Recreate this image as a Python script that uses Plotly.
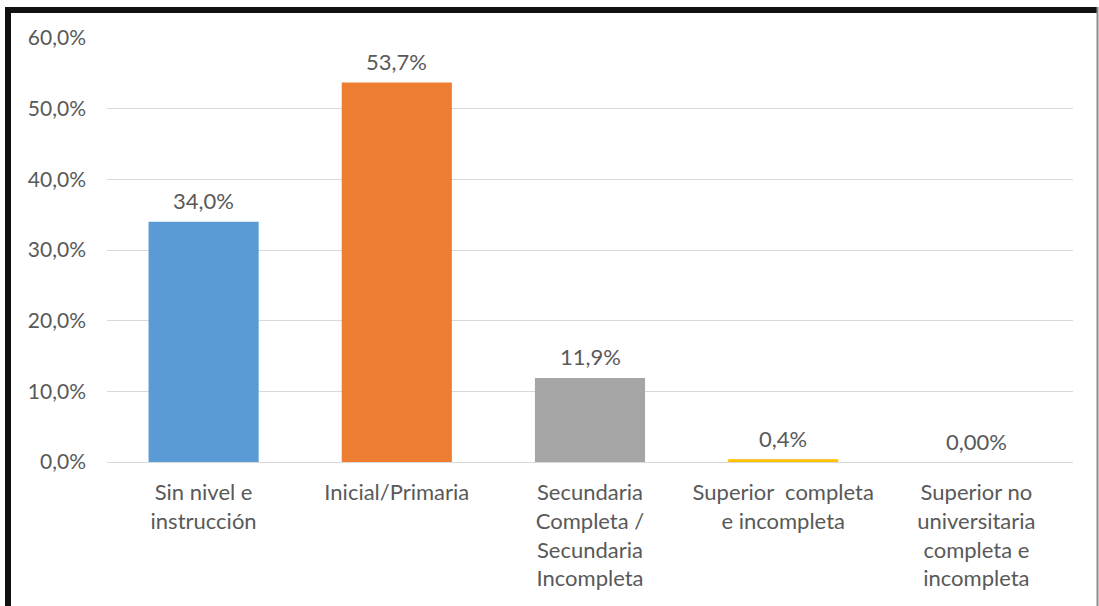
import plotly.graph_objects as go

# Nivel educativo: porcentaje por categoría
categorias = [
    "Sin nivel e<br>instrucción",
    "Inicial/Primaria",
    "Secundaria<br>Completa /<br>Secundaria<br>Incompleta",
    "Superior  completa<br>e incompleta",
    "Superior no<br>universitaria<br>completa e<br>incompleta",
]
porcentajes = [34.0, 53.7, 11.9, 0.4, 0.0]
decimales = [1, 1, 1, 1, 2]
colores = ["#5B9BD5", "#ED7D31", "#A5A5A5", "#FFC000", "#4472C4"]
ticks_y = [0, 10, 20, 30, 40, 50, 60]

W, H = 1099, 606
L, R, T, B = 107, 26, 38, 144
FONT = "Lato"
GRIS = "#595959"


def pct(v, d):
    return f"{v:.{d}f}".replace(".", ",") + "%"


fig = go.Figure(
    go.Bar(
        x=categorias,
        y=porcentajes,
        marker=dict(color=colores, line=dict(width=0)),
        hoverinfo="skip",
    )
)

# Etiquetas de valor sobre cada barra
for cat, v, d in zip(categorias, porcentajes, decimales):
    fig.add_annotation(
        x=cat, y=v, xref="x", yref="y",
        text=pct(v, d), showarrow=False,
        yanchor="middle", yshift=21,
        font=dict(family=FONT, size=22, color=GRIS),
    )

# Marco de la figura (pixeles convertidos a coordenadas del área de trazado)
pw, ph = W - L - R, H - T - B


def px(x):
    return (x - L) / pw


def py(y):
    return (H - B - y) / ph


fig.add_shape(type="rect", xref="paper", yref="paper",
              x0=px(5), x1=px(1097), y0=py(13), y1=py(7),
              fillcolor="#111111", line=dict(width=0), layer="above")
fig.add_shape(type="rect", xref="paper", yref="paper",
              x0=px(5), x1=px(11), y0=py(606), y1=py(7),
              fillcolor="#111111", line=dict(width=0), layer="above")
fig.add_shape(type="rect", xref="paper", yref="paper",
              x0=px(1096.5), x1=px(1098.5), y0=py(606), y1=py(7),
              fillcolor="#8C8C8C", line=dict(width=0), layer="above")

fig.update_layout(
    width=W,
    height=H,
    margin=dict(l=L, r=R, t=T, b=B, autoexpand=False),
    paper_bgcolor="white",
    plot_bgcolor="white",
    bargap=0.43,
    showlegend=False,
    font=dict(family=FONT, size=20, color=GRIS),
    xaxis=dict(
        showgrid=False,
        showline=True,
        linecolor="#D9D9D9",
        linewidth=1,
        tickfont=dict(family=FONT, size=22, color=GRIS),
        ticks="",
        ticklabelstandoff=11,
    ),
    yaxis=dict(
        range=[0, 60],
        tickmode="array",
        tickvals=ticks_y,
        ticktext=[pct(t, 1) for t in ticks_y],
        showgrid=True,
        gridcolor="#D9D9D9",
        gridwidth=1,
        zeroline=False,
        showline=False,
        ticks="",
        ticklabelstandoff=20,
        tickfont=dict(family=FONT, size=21, color=GRIS),
    ),
)

fig.write_html("out.html")
